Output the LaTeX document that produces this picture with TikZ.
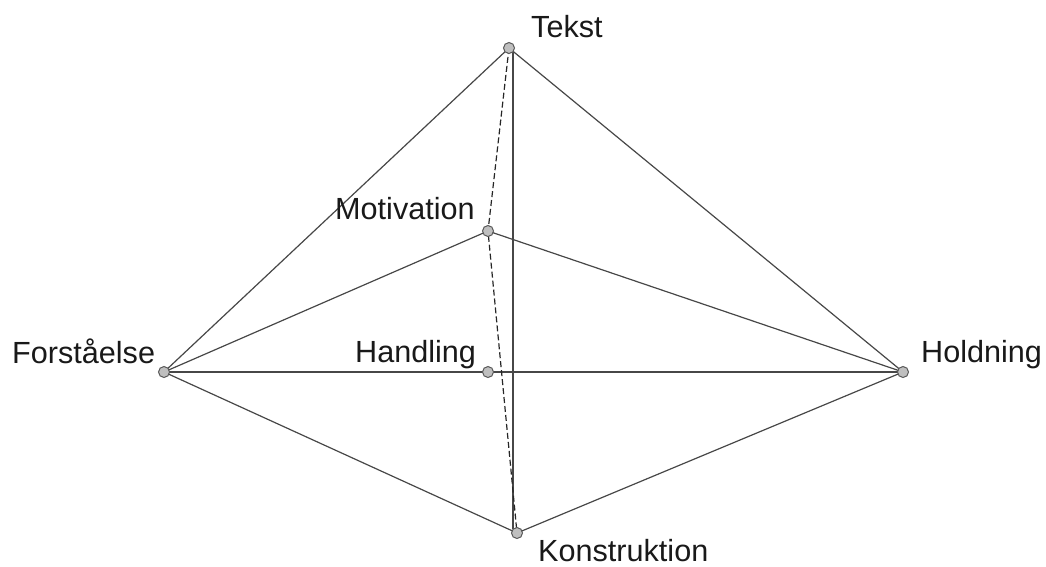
\documentclass[tikz,border=0pt]{standalone}
\usepackage{fontspec}
\setmainfont{Liberation Sans}
\begin{document}
\begin{tikzpicture}[x=1pt,y=-1pt,
  dot/.style={circle,draw=black!65,fill=black!25,line width=1pt,inner sep=0pt,minimum size=11pt},
  lbl/.style={anchor=base west,inner sep=0pt,font=\fontsize{30.6}{36}\selectfont,text=black!90},
  edge/.style={draw=black!72,line width=1.2pt},
  dedge/.style={draw=black!85,line width=1.2pt,dash pattern=on 6pt off 3pt}]
\useasboundingbox (0,0) rectangle (1046,566);
\coordinate (pT) at (509,48);
\coordinate (pM) at (488,231);
\coordinate (pF) at (164,372);
\coordinate (pHa) at (488,372);
\coordinate (pHo) at (903,372);
\coordinate (pK) at (517,533);
\coordinate (Tv) at (513,52);
\coordinate (Kv) at (513,529);
\path[edge] (pT) -- (pF);
\path[edge] (pT) -- (pHo);
\path[edge] (Tv) -- (Kv);
\path[edge] (pM) -- (pF);
\path[edge] (pM) -- (pHo);
\path[edge] (pF) -- (pHo);
\path[edge] (pF) -- (pK);
\path[edge] (pHo) -- (pK);
\path[dedge] (pT) -- (pM) -- (pK);
\node[dot] (T) at (pT) {};
\node[dot] (M) at (pM) {};
\node[dot] (F) at (pF) {};
\node[dot] (Ha) at (pHa) {};
\node[dot] (Ho) at (pHo) {};
\node[dot] (K) at (pK) {};
\node[lbl] (lT) at (531,37) {Tekst};
\node[lbl] (lM) at (335,219) {Motivation};
\node[lbl] (lF) at (12,363) {Forståelse};
\node[lbl] (lHa) at (355,362) {Handling};
\node[lbl] (lHo) at (921,362) {Holdning};
\node[lbl] (lK) at (538,561) {Konstruktion};
\end{tikzpicture}
\end{document}
